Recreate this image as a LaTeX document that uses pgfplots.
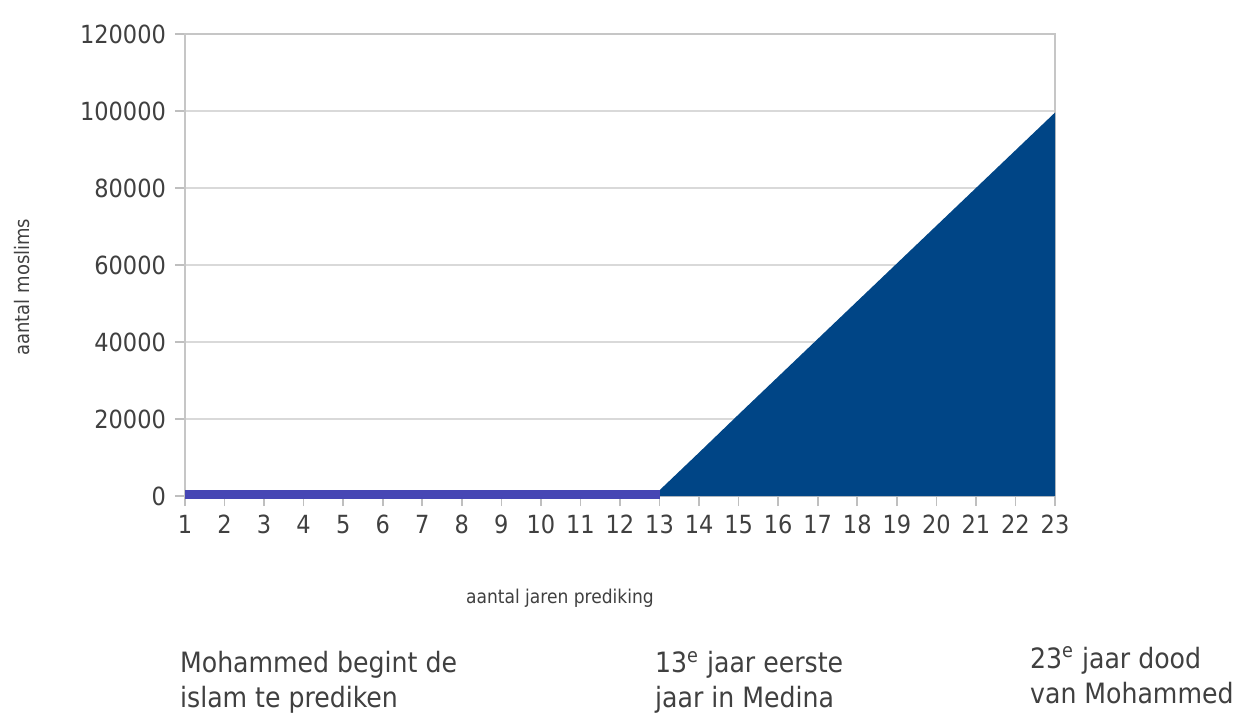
\documentclass[border=0pt]{standalone}
\usepackage{pgfplots}
\pgfplotsset{compat=1.18}
\usepackage{fontspec}
\setmainfont{DejaVu Sans Condensed}
\definecolor{navy}{HTML}{004586}
\definecolor{band}{HTML}{4646B4}
\definecolor{txt}{HTML}{404040}

\pgfplotstableread{
x y
1 500
2 500
3 500
4 500
5 500
6 500
7 500
8 500
9 500
10 500
11 500
12 500
13 500
}\begintable

\pgfplotstableread{
x y
13 1500
14 11300
15 21200
16 31000
17 40800
18 50600
19 60400
20 70200
21 80000
22 89800
23 99600
}\medinatable

\begin{document}
\begin{tikzpicture}
\begin{axis}[
  width=435pt, height=231pt, scale only axis,
  xmin=1, xmax=23, ymin=0, ymax=120000,
  xtick={1,...,23}, ytick={0,20000,...,120000},
  /pgf/number format/assume math mode=true,
  /pgf/number format/fixed, /pgf/number format/1000 sep={},
  scaled y ticks=false,
  tick pos=left,
  tick align=outside, major tick length=5pt,
  tick style={gray!50, line width=0.8pt},
  axis line style={gray!45, line width=0.8pt},
  ymajorgrids, major grid style={gray!30, line width=1pt},
  ticklabel style={font=\fontsize{12.5}{14}\selectfont, text=txt},
  yticklabel style={xshift=-1pt},
  xticklabel style={yshift=-1pt},
  clip=false,
]
\addplot[draw=none, fill=navy] table[x=x, y=y] {\medinatable} \closedcycle;
\addplot[band, line width=4.5pt] table[x=x, y=y] {\begintable};

\node[rotate=90, font=\fontsize{10}{11}\selectfont, text=txt]
  at (rel axis cs:-0.187,0.452) {aantal moslims};
\node[font=\fontsize{9.5}{11}\selectfont, text=txt]
  at (rel axis cs:0.431,-0.221) {aantal jaren prediking};

\node[anchor=north west, align=left, inner sep=0pt, font=\fontsize{14}{17.5}\selectfont, text=txt]
  at (rel axis cs:-0.006,-0.335) {Mohammed begint de\\islam te prediken};
\node[anchor=north west, align=left, inner sep=0pt, font=\fontsize{14}{17.5}\selectfont, text=txt]
  at (rel axis cs:0.540,-0.335) {13\textsuperscript{e} jaar eerste\\jaar in Medina};
\node[anchor=north west, align=left, inner sep=0pt, font=\fontsize{14}{17.5}\selectfont, text=txt]
  at (rel axis cs:0.971,-0.325) {23\textsuperscript{e} jaar dood\\van Mohammed};

\path (rel axis cs:-0.2126,-0.4848) rectangle (rel axis cs:1.2264,1.0736);
\end{axis}
\end{tikzpicture}
\end{document}
